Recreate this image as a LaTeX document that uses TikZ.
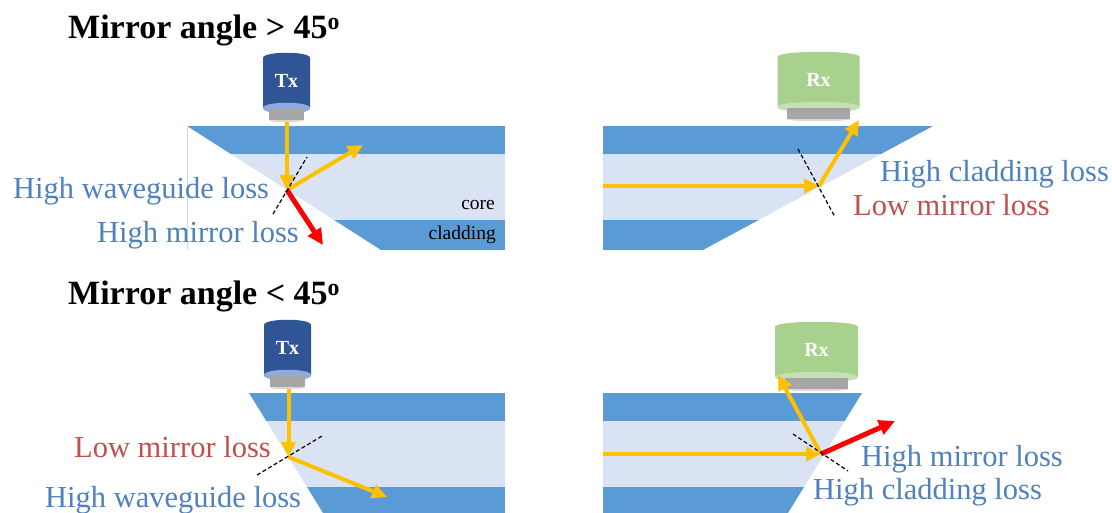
\documentclass[tikz,border=0pt]{standalone}
\usepackage{fontspec}
\setmainfont{Liberation Serif}
\usetikzlibrary{arrows.meta}

\definecolor{cladblue}{HTML}{5B9BD5}
\definecolor{coreblue}{HTML}{DAE3F3}
\definecolor{edgeblue}{HTML}{C9D9EE}
\definecolor{txblue}{HTML}{2F5597}
\definecolor{txrim}{HTML}{8FAADC}
\definecolor{rxgreen}{HTML}{A9D18E}
\definecolor{rxrim}{HTML}{C5E0B4}
\definecolor{lensgrey}{HTML}{A6A6A6}
\definecolor{lenslight}{HTML}{D9D9D9}
\definecolor{beamyellow}{HTML}{FFC000}
\definecolor{lossred}{HTML}{FF0000}
\definecolor{textblue}{HTML}{4F81BD}
\definecolor{textred}{HTML}{C0504D}

\tikzset{
  clad/.style={fill=cladblue},
  core/.style={fill=coreblue},
  beam/.style={draw=beamyellow, line width=4pt, -{Triangle[length=15pt,width=14pt]}},
  lossbeam/.style={draw=lossred, line width=5pt, -{Triangle[length=16pt,width=15pt]}},
  normal/.style={draw=black, dashed, line width=1.2pt, dash pattern=on 4pt off 2.5pt},
  lbl/.style={inner sep=0pt, font=\fontsize{30.5}{36}\selectfont},
  bluelbl/.style={lbl, text=textblue, anchor=base west},
  redlbl/.style={lbl, text=textred, anchor=base west},
  layerlbl/.style={inner sep=0pt, anchor=base east, font=\fontsize{19.5}{22}\selectfont},
  title/.style={inner sep=0pt, anchor=base west, font=\fontsize{34}{40}\selectfont\bfseries},
  modlabel/.style={inner sep=0pt, text=white, font=\fontsize{20}{24}\selectfont\bfseries},
}

% transmitter / receiver can: #1 name, #2 centre x, #3 top y, #4 half width,
% #5 body colour, #6 rim colour, #7 text
\newcommand\optmodule[7]{%
  \begin{scope}[shift={(#2,#3)}]
    \pgfmathsetmacro\hw{#4}
    \pgfmathsetmacro\lw{0.76*#4}
    \fill[#5] (-\hw,5) .. controls (-\hw,-2) and (\hw,-2) .. (\hw,5)
      -- (\hw,55) .. controls (\hw,62) and (-\hw,62) .. (-\hw,55) -- cycle;
    \fill[#6] (-\hw,55) .. controls (-\hw,48) and (\hw,48) .. (\hw,55)
      .. controls (\hw,62) and (-\hw,62) .. (-\hw,55) -- cycle;
    \fill[lensgrey] (-\lw,56) rectangle (\lw,67);
    \fill[lenslight] (-\lw,67) .. controls (-\lw,70) and (\lw,70) .. (\lw,67) -- cycle;
    \node[modlabel] (#1) at (0,28) {#7};
  \end{scope}}

\begin{document}
\begin{tikzpicture}[x=1pt, y=-1pt]
  \useasboundingbox (0,0) rectangle (1112,513);

  % titles
  \node[title] (titleA) at (68,39) {Mirror angle > 45\textsuperscript{o}};
  \node[title] (titleB) at (68,305) {Mirror angle < 45\textsuperscript{o}};

  % waveguide, top left
  \begin{scope}
    \clip (187,126) -- (505,126) -- (505,250) -- (381,250) -- cycle;
    \fill[clad] (180,126) rectangle (505,154);
    \fill[core] (180,154) rectangle (505,220);
    \fill[clad] (180,220) rectangle (505,250);
  \end{scope}
  \draw[edgeblue, line width=0.6pt] (187,126) -- (187,250);
  \node[layerlbl] (coreA) at (495,210) {core};
  \node[layerlbl] (cladA) at (496,240) {cladding};

  % waveguide, top right
  \begin{scope}
    \clip (603,126) -- (933,126) -- (703,250) -- (603,250) -- cycle;
    \fill[clad] (603,126) rectangle (940,154);
    \fill[core] (603,154) rectangle (940,220);
    \fill[clad] (603,220) rectangle (940,250);
  \end{scope}

  % waveguide, bottom left
  \begin{scope}
    \clip (249,393) -- (505,393) -- (505,513) -- (323,513) -- cycle;
    \fill[clad] (240,393) rectangle (505,421);
    \fill[core] (240,421) rectangle (505,487);
    \fill[clad] (240,487) rectangle (505,513);
  \end{scope}

  % waveguide, bottom right
  \begin{scope}
    \clip (603,393) -- (862,393) -- (788,513) -- (603,513) -- cycle;
    \fill[clad] (603,393) rectangle (870,421);
    \fill[core] (603,421) rectangle (870,487);
    \fill[clad] (603,487) rectangle (870,513);
  \end{scope}

  % sources and detectors
  \optmodule{txA}{286.5}{53}{23.5}{txblue}{txrim}{Tx}
  \optmodule{rxA}{818.5}{52}{41}{rxgreen}{rxrim}{Rx}
  \optmodule{txB}{287.5}{320}{23.5}{txblue}{txrim}{Tx}
  \optmodule{rxB}{816.5}{322}{41.5}{rxgreen}{rxrim}{Rx}

  % beam end points
  \coordinate (tlIn)   at (287,122);
  \coordinate (tlHit)  at (287,190);
  \coordinate (tlOut)  at (363,145);
  \coordinate (tlLoss) at (323,245);
  \coordinate (tlNa)   at (273,214);
  \coordinate (tlNb)   at (307,157);

  \coordinate (trIn)   at (603,186);
  \coordinate (trHit)  at (819,186);
  \coordinate (trOut)  at (859,120);
  \coordinate (trNa)   at (798,149);
  \coordinate (trNb)   at (835,217);

  \coordinate (blIn)   at (288.5,389);
  \coordinate (blHit)  at (288.5,457);
  \coordinate (blOut)  at (387,497);
  \coordinate (blNa)   at (257,475);
  \coordinate (blNb)   at (322,436);

  \coordinate (brIn)   at (603,454);
  \coordinate (brHit)  at (821,454);
  \coordinate (brOut)  at (778,375);
  \coordinate (brLoss) at (895,421);
  \coordinate (brNa)   at (793,434);
  \coordinate (brNb)   at (848,471);

  % rays
  \draw[beam] (tlIn) -- (tlHit);
  \draw[beam] (tlHit) -- (tlOut);
  \draw[lossbeam] (tlHit) -- (tlLoss);
  \draw[beam] (trIn) -- (trHit);
  \draw[beam] (trHit) -- (trOut);
  \draw[beam] (blIn) -- (blHit);
  \draw[beam] (blHit) -- (blOut);
  \draw[beam] (brIn) -- (brHit);
  \draw[beam] (brHit) -- (brOut);
  \draw[lossbeam] (brHit) -- (brLoss);

  % mirror normals
  \draw[normal] (tlNa) -- (tlNb);
  \draw[normal] (trNa) -- (trNb);
  \draw[normal] (blNa) -- (blNb);
  \draw[normal] (brNa) -- (brNb);

  % loss labels
  \node[bluelbl] (wgLossA)   at (13,199)  {High waveguide loss};
  \node[bluelbl] (mirLossA)  at (97,243)  {High mirror loss};
  \node[bluelbl] (cladLossA) at (880,182) {High cladding loss};
  \node[redlbl]  (mirLossB)  at (853,216) {Low mirror loss};
  \node[redlbl]  (mirLossC)  at (74,457)  {Low mirror loss};
  \node[bluelbl] (wgLossC)   at (45,507)  {High waveguide loss};
  \node[bluelbl] (mirLossD)  at (861,466) {High mirror loss};
  \node[bluelbl] (cladLossD) at (813,499) {High cladding loss};
\end{tikzpicture}
\end{document}
